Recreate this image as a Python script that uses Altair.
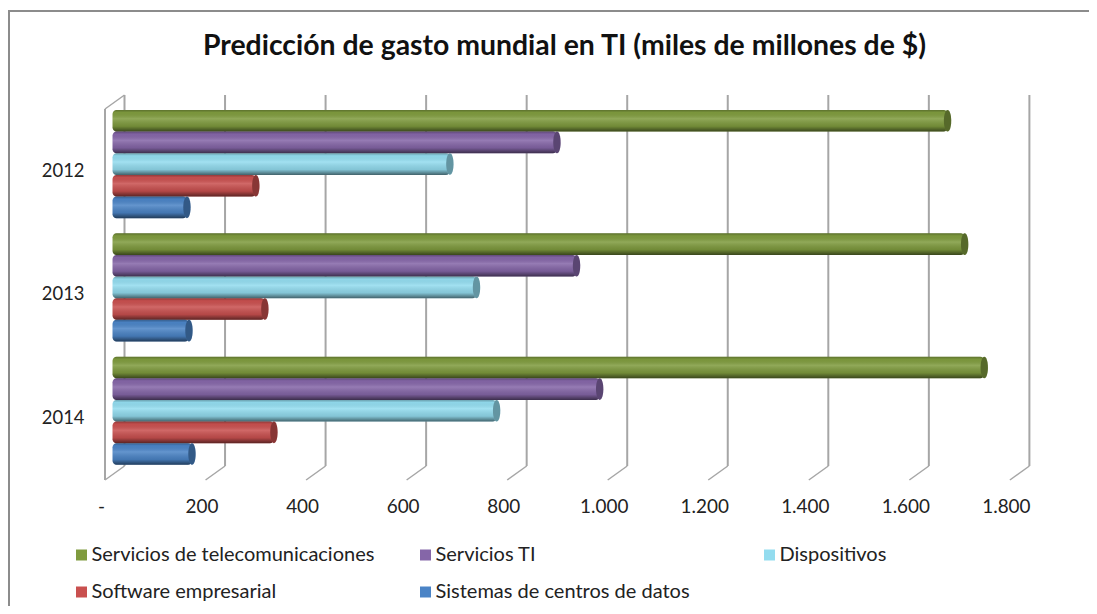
import altair as alt
import pandas as pd

years = ["2012", "2013", "2014"]
series = ["Servicios de telecomunicaciones", "Servicios TI", "Dispositivos",
          "Software empresarial", "Sistemas de centros de datos"]
legend_order = ["Servicios de telecomunicaciones", "Software empresarial", "Servicios TI",
                "Sistemas de centros de datos", "Dispositivos"]
colors = ["#7f9b3e", "#8566a8", "#93dcef", "#c9504f", "#4b84c6"]
telecom = [1657, 1691, 1730]
it_services = [880, 919, 965]
devices = [667, 720, 760]
software = [281, 299, 317]
datacenter = [144, 148, 154]
ticks = [0, 200, 400, 600, 800, 1000, 1200, 1400, 1600, 1800]

rows = []
for name, vals in zip(series, [telecom, it_services, devices, software, datacenter]):
    for yr, v in zip(years, vals):
        rows.append({"year": yr, "series": name, "value": v})
df = pd.DataFrame(rows)
tdf = pd.DataFrame({"v": ticks})

FONT = "Lato"
GRID = "#a6a6a6"
FRAME = "#8c8c8c"
W, H = 925, 385
DX, DY = 19.5, 14

x_scale = alt.Scale(domain=[0, 1840], range=[0, W], nice=False, zero=False)
x_axis = alt.Axis(values=ticks, domain=False, ticks=False, grid=False, labelFont=FONT,
                  labelFontSize=18.9, labelColor="#222222", labelPadding=17, labelOffset=-4,
                  labelFlush=False, labelOverlap=False,
                  labelExpr="datum.value == 0 ? '-' : replace(format(datum.value, ','), ',', '.')")
y_enc = alt.Y("year:N", sort=years, title=None,
              scale=alt.Scale(domain=years, range=[7.4, 377.4], paddingInner=0, paddingOuter=0),
              axis=alt.Axis(domain=False, ticks=False, grid=False, labelFont=FONT, labelFontSize=18.4,
                            labelColor="#222222", labelPadding=21, labelOffset=7))
yoff = alt.YOffset("series:N", sort=series,
                   scale=alt.Scale(domain=series, paddingInner=0, paddingOuter=0.35))
x_enc = alt.X("end:Q", scale=x_scale, title=None, axis=x_axis)
x2_enc = alt.X2("start:Q")
tx = alt.X("v:Q", scale=x_scale, axis=x_axis, title=None)

back = alt.Chart(tdf).mark_rule(color=GRID, strokeWidth=2, xOffset=DX).encode(
    x=tx, y=alt.value(0), y2=alt.value(H - DY))
diag = alt.Chart(tdf).mark_rule(color=GRID, strokeWidth=1.5, xOffset=DX, x2Offset=0).encode(
    x=tx, x2="v:Q", y=alt.value(H - DY), y2=alt.value(H))
wall = alt.Chart(tdf[tdf.v == 0]).mark_rule(color=GRID, strokeWidth=2).encode(
    x=tx, y=alt.value(DY), y2=alt.value(H))
wall_top = alt.Chart(tdf[tdf.v == 0]).mark_rule(color=GRID, strokeWidth=1.5, xOffset=DX, x2Offset=0).encode(
    x=tx, x2="v:Q", y=alt.value(0), y2=alt.value(DY))

frame_left = alt.Chart(tdf[tdf.v == 0]).mark_rule(color=FRAME, strokeWidth=2).encode(
    x=alt.value(-96), y=alt.value(-85), y2=alt.value(511))
frame_top = alt.Chart(tdf[tdf.v == 0]).mark_rule(color=FRAME, strokeWidth=2).encode(
    y=alt.value(-84), x=alt.value(-97), x2=alt.value(984))

legend = alt.Legend(title=None, orient="none", legendX=-33.5, legendY=450, columns=3, gridAlign="all",
                    columnPadding=41, rowPadding=17, symbolType="square", symbolSize=121,
                    symbolStrokeWidth=0, labelFont=FONT, labelFontSize=20, labelColor="#222222",
                    labelLimit=400, symbolOpacity=1, labelOffset=0, values=legend_order)
color = alt.Color("series:N", sort=series, scale=alt.Scale(domain=series, range=colors), legend=legend)

base = alt.Chart(df).transform_calculate(end="datum.value + 19", start="15")
bars = base.mark_bar(cornerRadius=4, opacity=1).encode(
    x=x_enc, x2=x2_enc, y=y_enc, yOffset=yoff, color=color)
shade = base.mark_bar(
    cornerRadius=4,
    color=alt.Gradient(gradient="linear", x1=0, x2=0, y1=0, y2=1, stops=[
        alt.GradientStop(offset=0, color="rgba(0,0,0,0.28)"),
        alt.GradientStop(offset=0.12, color="rgba(0,0,0,0.03)"),
        alt.GradientStop(offset=0.4, color="rgba(255,255,255,0.14)"),
        alt.GradientStop(offset=0.75, color="rgba(0,0,0,0.1)"),
        alt.GradientStop(offset=1, color="rgba(0,0,0,0.55)"),
    ])).encode(x=x_enc, x2=x2_enc, y=y_enc, yOffset=yoff)
CAP = ("M0,-1 C0.2,-1 0.34,-0.55 0.34,0 C0.34,0.55 0.2,1 0,1 "
       "C-0.2,1 -0.34,0.55 -0.34,0 C-0.34,-0.55 -0.2,-1 0,-1 Z")
caps = base.mark_point(shape=CAP, size=467, filled=True, opacity=1).encode(
    x=x_enc, y=y_enc, yOffset=yoff, color=color)
caps_dark = base.mark_point(shape=CAP, size=467, filled=True, opacity=0.32, color="#000000").encode(
    x=x_enc, y=y_enc, yOffset=yoff)

chart = alt.layer(frame_left, frame_top, back, diag, wall, wall_top, bars, shade, caps, caps_dark).properties(
    width=W, height=H, background="white",
    padding={"left": 97, "top": 87, "right": 59, "bottom": 126},
    autosize=alt.AutoSizeParams(type="none"),
    title=alt.TitleParams("Predicción de gasto mundial en TI (miles de millones de $)",
                          font=FONT, fontSize=28.4, fontWeight="bold", color="#111111",
                          anchor="middle", dx=-3, offset=-52),
).configure_view(stroke=None)

chart.save("out.html", embed_options={"renderer": "svg", "actions": False})
